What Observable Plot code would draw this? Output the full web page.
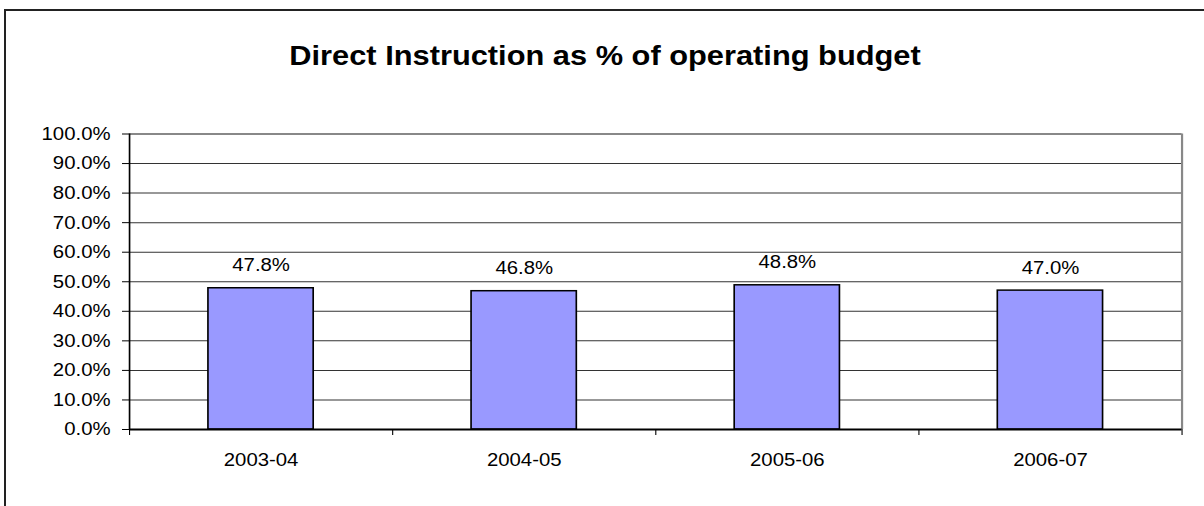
<!DOCTYPE html>
<html>
<head>
<meta charset="utf-8">
<script src="https://cdn.jsdelivr.net/npm/d3@7"></script>
<script src="https://cdn.jsdelivr.net/npm/@observablehq/plot@0.6"></script>
<style>
html, body { margin: 0; padding: 0; background: #fff; overflow: hidden; }
#page { position: relative; width: 1204px; height: 506px; overflow: hidden; font-family: "Liberation Sans", Arial, sans-serif; background: #fff; }
#frame { position: absolute; left: 4px; top: 9px; width: 1400px; height: 700px; border-left: 2px solid #222; border-top: 2px solid #222; }
#title { position: absolute; left: 0; top: 42px; width: 1210px; text-align: center; font-size: 28px; font-weight: bold; line-height: 28px; color: #000; }
#title span { display: inline-block; transform: scaleX(1.1); }
#chart { position: absolute; left: 0; top: 100px; }
#chart svg { transform: scaleX(1.1); transform-origin: 0 0; }
</style>
</head>
<body>
<div id="page">
  <div id="frame"></div>
  <div id="title"><span>Direct Instruction as % of operating budget</span></div>
  <div id="chart"></div>
</div>
<script>
const titleText = "Direct Instruction as % of operating budget";
const categories = ["2003-04", "2004-05", "2005-06", "2006-07"];
const values = [0.478, 0.468, 0.488, 0.470];
const yTicks = [0, 0.1, 0.2, 0.3, 0.4, 0.5, 0.6, 0.7, 0.8, 0.9, 1.0];

document.querySelector("#title span").textContent = titleText;

const fmt = d3.format(".1%");
const data = categories.map((c, i) => ({category: c, i, value: values[i]}));
const boundaries = d3.range(categories.length + 1);
const centers = categories.map((c, i) => i + 0.5);
const gridTicks = yTicks.filter(t => t > 0 && t < 1);

const S = 1.1;
const chart = Plot.plot({
  width: Math.round(1204 / S),
  height: 406,
  marginLeft: 129 / S,
  marginRight: 23 / S,
  marginTop: 33.5,
  marginBottom: 77,
  style: { fontFamily: '"Liberation Sans", Arial, sans-serif', fontSize: "18.5px", color: "#000", background: "transparent", overflow: "visible" },
  x: { domain: [0, categories.length], axis: null },
  y: { domain: [0, 1], axis: null },
  marks: [
    Plot.ruleY(gridTicks, { stroke: "#333", strokeWidth: 1 }),
    Plot.ruleY([1], { stroke: "#888", strokeWidth: 2 }),
    Plot.ruleX([categories.length], { stroke: "#888", strokeWidth: 2 }),
    Plot.rect(data, { x1: d => d.i + 0.3, x2: d => d.i + 0.7, y1: d => 0, y2: "value", fill: "#9999FF", stroke: "#000", strokeWidth: 1.5 }),
    Plot.text(data, { x: d => d.i + 0.5, y: "value", text: d => fmt(d.value), dy: -23, fill: "#000", fontSize: 18.5 }),
    Plot.ruleX([0], { stroke: "#000", strokeWidth: 1.5 }),
    Plot.ruleY([0], { stroke: "#000", strokeWidth: 2 }),
    Plot.axisY({ ticks: yTicks, tickFormat: fmt, tickSize: 7 / S, tickPadding: 12 / S, fontSize: 18.5, stroke: "#000", label: null }),
    Plot.axisX({ ticks: boundaries, tickFormat: () => "", tickSize: 6, stroke: "#000", label: null }),
    Plot.axisX({ ticks: centers, tickFormat: v => categories[Math.floor(v)], tickSize: 0, tickPadding: 23.7, fontSize: 18.5, label: null })
  ]
});
document.getElementById("chart").appendChild(chart);
</script>
</body>
</html>
